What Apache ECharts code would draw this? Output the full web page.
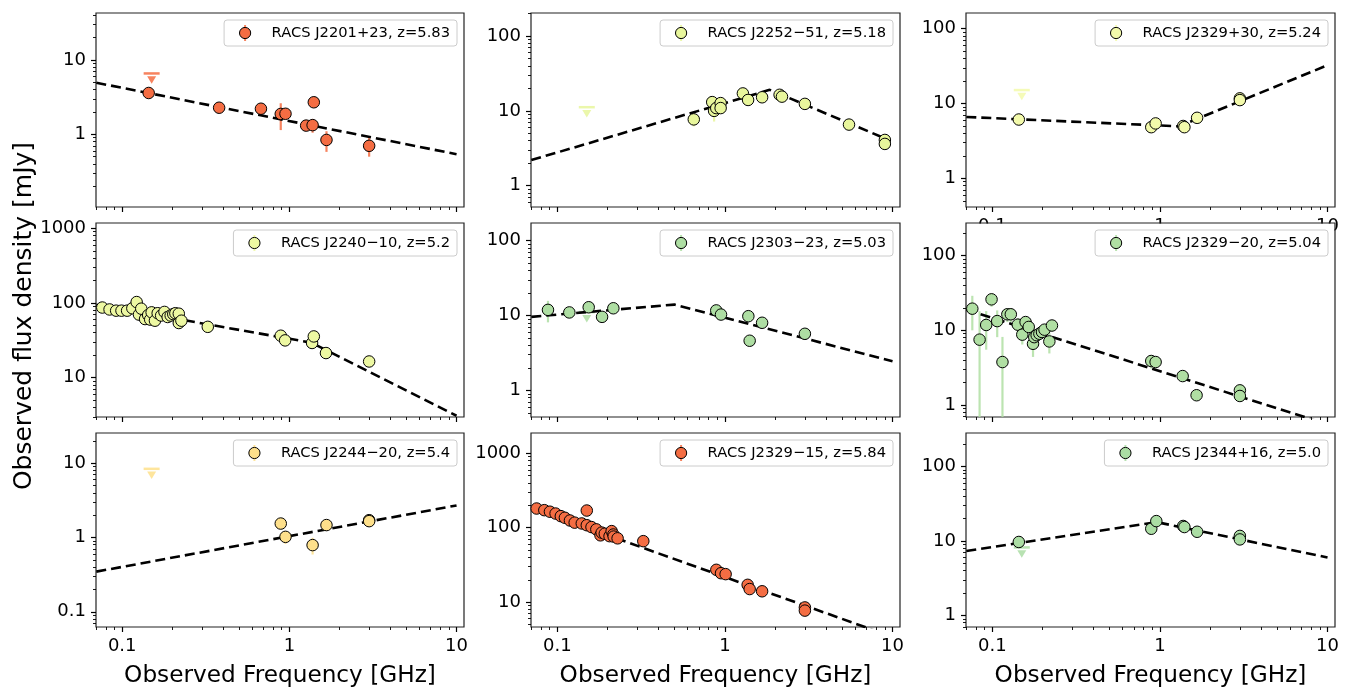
<!DOCTYPE html>
<html lang="en">
<head>
<meta charset="UTF-8">
<title>RACS high-z quasars - radio spectra</title>
<script src="https://cdn.jsdelivr.net/npm/echarts@6/dist/echarts.min.js"></script>
<style>
  html, body { margin: 0; padding: 0; background: #fff; }
  #chart { width: 1352px; height: 687px; }
</style>
</head>
<body>
<div id="chart"></div>
<script>
// ---- values (GHz / mJy) ----
var xTickValues = [0.1, 1, 10];

// RACS J2201+23
var j2201Freq = [0.144, 0.38, 0.676, 0.888, 0.948, 1.26, 1.377, 1.40, 1.667, 3.0];
var j2201Flux = [3.6, 2.28, 2.21, 1.88, 1.89, 1.31, 1.33, 2.70, 0.84, 0.70];
var j2201Err = [0.3, 0.15, 0.2, 0.74, 0.2, 0.12, 0.28, 0.2, 0.26, 0.2];
var j2201LimFreq = [0.15];
var j2201LimFlux = [6.6];
var j2201FitFreq = [0.07, 10];
var j2201FitFlux = [4.95, 0.54];

// RACS J2252-51
var j2252Freq = [0.652, 0.84, 0.862, 0.888, 0.943, 0.943, 1.28, 1.375, 1.667, 2.12, 2.19, 3.0, 5.5, 9.0, 9.0];
var j2252Flux = [7.7, 13.1, 10.0, 10.9, 12.7, 10.9, 17.1, 14.0, 15.2, 16.4, 15.5, 12.4, 6.56, 4.09, 3.62];
var j2252Err = [1.5, 1.0, 2.8, 1.0, 1.0, 1.0, 1.0, 0.8, 0.8, 0.8, 0.8, 0.6, 0.3, 0.2, 0.2];
var j2252LimFreq = [0.15];
var j2252LimFlux = [11.2];
var j2252FitFreq = [0.07, 1.85, 9.0];
var j2252FitFlux = [2.2, 19.1, 4.3];

// RACS J2329+30
var j2329pFreq = [0.144, 0.888, 0.943, 1.377, 1.40, 1.667, 3.0, 3.0];
var j2329pFlux = [6.1, 4.82, 5.41, 5.0, 4.82, 6.43, 11.7, 11.1];
var j2329pErr = [0.3, 0.2, 0.2, 0.2, 0.2, 0.3, 0.4, 0.4];
var j2329pLimFreq = [0.15];
var j2329pLimFlux = [15.1];
var j2329pFitFreq = [0.07, 1.3, 10];
var j2329pFitFlux = [6.6, 4.95, 32.5];

// RACS J2240-10
var j2240Freq = [0.076, 0.084, 0.092, 0.099, 0.107, 0.115, 0.122, 0.126, 0.130, 0.137, 0.143, 0.147,
                 0.150, 0.157, 0.163, 0.171, 0.179, 0.187, 0.195, 0.202, 0.208, 0.218, 0.218, 0.226,
                 0.325, 0.888, 0.943, 1.367, 1.40, 1.655, 3.0];
var j2240Flux = [87, 82, 79, 79, 79, 85, 103, 70, 84, 61, 69, 60,
                 75, 58, 73, 68, 76, 65, 68, 71, 73, 72, 54, 58,
                 48, 36.5, 31.6, 29.2, 35.7, 21.4, 16.5];
var j2240Err = [4, 4, 4, 4, 4, 5, 6, 6, 6, 9, 6, 9,
                6, 9, 6, 6, 6, 6, 6, 6, 6, 6, 6, 6,
                3, 2, 2, 2, 2, 1.5, 1];
var j2240LimFreq = [];
var j2240LimFlux = [];
var j2240FitFreq = [0.07, 1.35, 10];
var j2240FitFlux = [95, 29.5, 3.1];

// RACS J2303-23
var j2303Freq = [0.088, 0.118, 0.154, 0.185, 0.216, 0.888, 0.948, 1.38, 1.405, 1.667, 3.0];
var j2303Flux = [11.9, 11.0, 12.9, 9.6, 12.5, 11.7, 10.3, 9.8, 4.6, 8.0, 5.7];
var j2303Err = [3.8, 1.5, 1.2, 1.0, 1.0, 0.4, 0.4, 0.4, 0.3, 0.4, 0.3];
var j2303LimFreq = [0.15];
var j2303LimFlux = [11.1];
var j2303FitFreq = [0.07, 0.5, 10];
var j2303FitFlux = [9.6, 14.0, 2.45];

// RACS J2329-20
var j2329mFreq = [0.076, 0.084, 0.092, 0.099, 0.107, 0.115, 0.123, 0.129, 0.142, 0.151, 0.158, 0.165, 0.175,
                  0.178, 0.184, 0.191, 0.198, 0.205, 0.219, 0.227, 0.888, 0.943, 1.367, 1.655, 3.0, 3.0];
var j2329mFlux = [19.5, 7.5, 11.8, 26.0, 13.3, 3.76, 16.4, 16.4, 11.9, 8.75, 12.9, 11.1, 6.6,
                  8.1, 8.6, 9.0, 9.5, 10.2, 7.1, 11.6, 3.88, 3.76, 2.44, 1.35, 1.57, 1.32];
var j2329mErr = [9.5, 10.5, 6.3, 5.3, 5.2, 4.4, 3.5, 3.5, 2.7, 2.3, 2.0, 2.0, 2.2,
                 1.5, 1.5, 1.5, 1.5, 1.5, 2.2, 2.0, 0.8, 0.3, 0.2, 0.1, 0.15, 0.15];
var j2329mLimFreq = [];
var j2329mLimFlux = [];
var j2329mFitFreq = [0.07, 10];
var j2329mFitFlux = [18.9, 0.55];

// RACS J2244-20
var j2244Freq = [0.888, 0.948, 1.377, 1.667, 3.0, 3.0];
var j2244Flux = [1.54, 1.02, 0.79, 1.47, 1.71, 1.66];
var j2244Err = [0.12, 0.2, 0.2, 0.12, 0.25, 0.25];
var j2244LimFreq = [0.15];
var j2244LimFlux = [8.4];
var j2244FitFreq = [0.07, 10];
var j2244FitFlux = [0.347, 2.7];

// RACS J2329-15
var j2329sFreq = [0.0753, 0.0837, 0.0904, 0.0977, 0.105, 0.111, 0.119, 0.127, 0.140, 0.150, 0.150, 0.160,
                  0.171, 0.181, 0.184, 0.192, 0.205, 0.211, 0.216, 0.217, 0.229, 0.326,
                  0.889, 0.948, 1.01, 1.367, 1.405, 1.667, 3.0, 3.0];
var j2329sFlux = [181, 172, 164, 155, 143, 136, 125, 117, 114, 170, 108, 102,
                  95, 79, 86, 83, 77, 90, 81, 76, 72, 66,
                  27.2, 24.5, 23.8, 17.1, 15.0, 14.0, 8.5, 7.7];
var j2329sErr = [5, 5, 5, 5, 4, 4, 4, 4, 4, 5, 4, 4,
                 4, 3, 3, 3, 3, 3, 3, 3, 3, 3,
                 1, 1, 1, 0.6, 0.6, 0.5, 0.3, 0.3];
var j2329sLimFreq = [];
var j2329sLimFlux = [];
var j2329sFitFreq = [0.07, 10];
var j2329sFitFlux = [184, 3.42];

// RACS J2344+16
var j2344Freq = [0.144, 0.888, 0.952, 1.377, 1.40, 1.667, 3.0, 3.0];
var j2344Flux = [9.7, 14.6, 18.5, 15.9, 15.4, 13.3, 11.7, 10.5];
var j2344Err = [0.5, 0.6, 0.6, 0.5, 0.5, 0.5, 0.4, 0.4];
var j2344LimFreq = [0.15];
var j2344LimFlux = [8.2];
var j2344FitFreq = [0.07, 0.96, 10];
var j2344FitFlux = [7.35, 17.9, 6.0];

// ---- panels (row by row) ----
var panels = [
  { name: 'RACS J2201+23, z=5.83', color: '#f46d43', yMin: 0.105, yMax: 43,
    freq: j2201Freq, flux: j2201Flux, err: j2201Err, limFreq: j2201LimFreq, limFlux: j2201LimFlux, fitFreq: j2201FitFreq, fitFlux: j2201FitFlux },
  { name: 'RACS J2252\u221251, z=5.18', color: '#e8f69c', yMin: 0.52, yMax: 203,
    freq: j2252Freq, flux: j2252Flux, err: j2252Err, limFreq: j2252LimFreq, limFlux: j2252LimFlux, fitFreq: j2252FitFreq, fitFlux: j2252FitFlux },
  { name: 'RACS J2329+30, z=5.24', color: '#f3faab', yMin: 0.413, yMax: 162,
    freq: j2329pFreq, flux: j2329pFlux, err: j2329pErr, limFreq: j2329pLimFreq, limFlux: j2329pLimFlux, fitFreq: j2329pFitFreq, fitFlux: j2329pFitFlux },
  { name: 'RACS J2240\u221210, z=5.2', color: '#edf8a2', yMin: 2.98, yMax: 1178,
    freq: j2240Freq, flux: j2240Flux, err: j2240Err, limFreq: j2240LimFreq, limFlux: j2240LimFlux, fitFreq: j2240FitFreq, fitFlux: j2240FitFlux },
  { name: 'RACS J2303\u221223, z=5.03', color: '#aedea3', yMin: 0.44, yMax: 172.5,
    freq: j2303Freq, flux: j2303Flux, err: j2303Err, limFreq: j2303LimFreq, limFlux: j2303LimFlux, fitFreq: j2303FitFreq, fitFlux: j2303FitFlux },
  { name: 'RACS J2329\u221220, z=5.04', color: '#b0dfa3', yMin: 0.69, yMax: 274,
    freq: j2329mFreq, flux: j2329mFlux, err: j2329mErr, limFreq: j2329mLimFreq, limFlux: j2329mLimFlux, fitFreq: j2329mFitFreq, fitFlux: j2329mFitFlux },
  { name: 'RACS J2244\u221220, z=5.4', color: '#fee08b', yMin: 0.0624, yMax: 25.5,
    freq: j2244Freq, flux: j2244Flux, err: j2244Err, limFreq: j2244LimFreq, limFlux: j2244LimFlux, fitFreq: j2244FitFreq, fitFlux: j2244FitFlux },
  { name: 'RACS J2329\u221215, z=5.84', color: '#f46d43', yMin: 4.64, yMax: 1870,
    freq: j2329sFreq, flux: j2329sFlux, err: j2329sErr, limFreq: j2329sLimFreq, limFlux: j2329sLimFlux, fitFreq: j2329sFitFreq, fitFlux: j2329sFitFlux },
  { name: 'RACS J2344+16, z=5.0', color: '#abdda4', yMin: 0.70, yMax: 282,
    freq: j2344Freq, flux: j2344Flux, err: j2344Err, limFreq: j2344LimFreq, limFlux: j2344LimFlux, fitFreq: j2344FitFreq, fitFlux: j2344FitFlux }
];

var X_MIN = 0.0697, X_MAX = 11.08;
var FONT = 'DejaVu Sans';
var LEGEND_FONT = 14.7;
var colLeft = [96, 531, 966], colWidth = [368, 369, 369];
var rowTop = [13, 223, 433], rowHeight = 194;

// tick positions k*10^n inside [lo, hi]
function decadeTicks(lo, hi, mults) {
  var out = [];
  for (var e = Math.floor(Math.log10(lo)); e <= Math.ceil(Math.log10(hi)); e++) {
    mults.forEach(function (m) {
      var v = +(m * Math.pow(10, e)).toPrecision(6);
      if (v >= lo && v <= hi) out.push(v);
    });
  }
  return out;
}
var MINOR = [2, 3, 4, 5, 6, 7, 8, 9];

function fmtTick(v) { return String(+Number(v).toPrecision(6)); }

var measureCtx = document.createElement('canvas').getContext('2d');
function textWidth(str, size) {
  measureCtx.font = size + 'px "' + FONT + '"';
  return measureCtx.measureText(str).width;
}

function errRender(color, yMin) {
  return function (params, api) {
    var lo = Math.max(api.value(1), yMin);
    var a = api.coord([api.value(0), lo]);
    var b = api.coord([api.value(0), api.value(2)]);
    return {
      type: 'line',
      shape: { x1: a[0], y1: a[1], x2: b[0], y2: b[1] },
      style: { stroke: color, lineWidth: 2.2, opacity: 0.85 }
    };
  };
}

var grids = [], xAxes = [], yAxes = [], series = [], graphics = [];

panels.forEach(function (p, i) {
  var row = Math.floor(i / 3), col = i % 3;
  var left = colLeft[col], top = rowTop[row], width = colWidth[col];
  // middle-right panel sits on its own layer so it can hide the labels of the panel above
  var zl = (i === 5) ? 2 : 0;
  grids.push({
    left: left, top: top, width: width, height: rowHeight, zlevel: zl,
    show: true, borderColor: '#222', borderWidth: 1.2, backgroundColor: 'transparent',
    containLabel: false, outerBoundsMode: 'none'
  });

  var showXLabels = (row === 2 || i === 2);
  var tickStyle = { color: '#000', width: 1.2 };
  xAxes.push({
    type: 'log', logBase: 10, gridIndex: i, min: X_MIN, max: X_MAX, position: 'bottom', zlevel: zl,
    axisLine: { show: false }, splitLine: { show: false },
    axisTick: { show: true, length: 5, lineStyle: tickStyle, customValues: xTickValues },
    axisLabel: { show: showXLabels, customValues: xTickValues, formatter: fmtTick, margin: 10,
                 fontSize: 18, color: '#000', fontFamily: FONT },
    name: row === 2 ? 'Observed Frequency [GHz]' : '', nameLocation: 'middle', nameGap: 37,
    nameMoveOverlap: false,
    nameTextStyle: { fontSize: 23.2, color: '#000', fontFamily: FONT }
  });
  xAxes.push({
    type: 'log', logBase: 10, gridIndex: i, min: X_MIN, max: X_MAX, position: 'bottom', zlevel: zl,
    axisLine: { show: false }, splitLine: { show: false }, axisLabel: { show: false },
    axisTick: { show: true, length: 3, lineStyle: { color: '#000', width: 0.9 },
                customValues: decadeTicks(X_MIN, X_MAX, MINOR) }
  });
  var yMajor = decadeTicks(p.yMin, p.yMax, [1]);
  yAxes.push({
    type: 'log', logBase: 10, gridIndex: i, min: p.yMin, max: p.yMax, position: 'left', zlevel: zl,
    axisLine: { show: false }, splitLine: { show: false },
    axisTick: { show: true, length: 5, lineStyle: tickStyle, customValues: yMajor },
    axisLabel: { show: true, customValues: yMajor, formatter: fmtTick, margin: 10,
                 fontSize: 18, color: '#000', fontFamily: FONT }
  });
  yAxes.push({
    type: 'log', logBase: 10, gridIndex: i, min: p.yMin, max: p.yMax, position: 'left', zlevel: zl,
    axisLine: { show: false }, splitLine: { show: false }, axisLabel: { show: false },
    axisTick: { show: true, length: 3, lineStyle: { color: '#000', width: 0.9 },
                customValues: decadeTicks(p.yMin, p.yMax, MINOR) }
  });

  var xi = 2 * i, yi = 2 * i;

  // error bars
  series.push({
    type: 'custom', xAxisIndex: xi, yAxisIndex: yi, silent: true, clip: true, z: 2, zlevel: zl,
    encode: { x: 0, y: [1, 2] },
    renderItem: errRender(p.color, p.yMin),
    data: p.freq.map(function (f, k) { return [f, p.flux[k] - p.err[k], p.flux[k] + p.err[k]]; })
  });
  // fitted spectrum
  series.push({
    type: 'line', xAxisIndex: xi, yAxisIndex: yi, silent: true, z: 3, zlevel: zl,
    showSymbol: false, symbol: 'none',
    lineStyle: { color: '#000', width: 2.6, type: [10, 5] },
    data: p.fitFreq.map(function (f, k) { return [f, p.fitFlux[k]]; })
  });
  // upper limits: cap + down arrow
  var lims = p.limFreq.map(function (f, k) { return [f, p.limFlux[k]]; });
  series.push({
    type: 'scatter', xAxisIndex: xi, yAxisIndex: yi, silent: true, z: 2, zlevel: zl,
    symbol: 'rect', symbolSize: [16, 2.5],
    itemStyle: { color: p.color, opacity: 0.85 }, data: lims
  });
  series.push({
    type: 'scatter', xAxisIndex: xi, yAxisIndex: yi, silent: true, z: 2, zlevel: zl,
    symbol: 'triangle', symbolRotate: 180, symbolSize: [9, 7.5], symbolOffset: [0, 6.5],
    itemStyle: { color: p.color, opacity: 0.85 }, data: lims
  });
  // detections
  series.push({
    name: p.name, type: 'scatter', xAxisIndex: xi, yAxisIndex: yi, silent: true, z: 4, zlevel: zl,
    symbol: 'circle', symbolSize: 11.5,
    itemStyle: { color: p.color, borderColor: '#000', borderWidth: 1, opacity: 1 },
    data: p.freq.map(function (f, k) { return [f, p.flux[k]]; })
  });

  // legend box (upper right, matplotlib style)
  var tw = textWidth(p.name, LEGEND_FONT);
  var boxW = 47.5 + tw + 7, boxH = 26;
  var boxX = left + width - 7 - boxW, boxY = top + 7;
  var cy = boxY + boxH / 2;
  graphics.push(
    { type: 'rect', zlevel: zl, z: 10, silent: true,
      shape: { x: boxX, y: boxY, width: boxW, height: boxH, r: 3 },
      style: { fill: 'rgba(255,255,255,0.8)', stroke: '#cccccc', lineWidth: 1 } },
    { type: 'line', zlevel: zl, z: 11, silent: true,
      shape: { x1: boxX + 21, y1: cy - 8, x2: boxX + 21, y2: cy + 8 },
      style: { stroke: p.color, lineWidth: 2, opacity: 0.85 } },
    { type: 'circle', zlevel: zl, z: 12, silent: true,
      shape: { cx: boxX + 21, cy: cy, r: 5.6 },
      style: { fill: p.color, stroke: '#000', lineWidth: 1 } },
    { type: 'text', zlevel: zl, z: 12, silent: true, x: boxX + 47.5, y: cy,
      style: { text: p.name, fontSize: LEGEND_FONT, fontFamily: FONT, fill: '#000',
               align: 'left', verticalAlign: 'middle' } }
  );
});

// the middle-right panel covers the tick labels of the top-right one, as in the figure
graphics.push({ type: 'rect', zlevel: 1, z: 0, silent: true,
  shape: { x: colLeft[2] + 0.5, y: rowTop[1] + 0.5, width: colWidth[2] - 1, height: rowHeight - 1 },
  style: { fill: '#fff' } });
graphics.push({ type: 'text', z: 5, silent: true, x: 24, y: 316, rotation: Math.PI / 2,
  style: { text: 'Observed flux density [mJy]', fontSize: 25, fontFamily: FONT, fill: '#000',
           align: 'center', verticalAlign: 'middle' } });

var chart = echarts.init(document.getElementById('chart'), null, { renderer: 'canvas' });
chart.setOption({
  animation: false,
  backgroundColor: '#fff',
  grid: grids,
  xAxis: xAxes,
  yAxis: yAxes,
  series: series,
  graphic: graphics
});
</script>
</body>
</html>
